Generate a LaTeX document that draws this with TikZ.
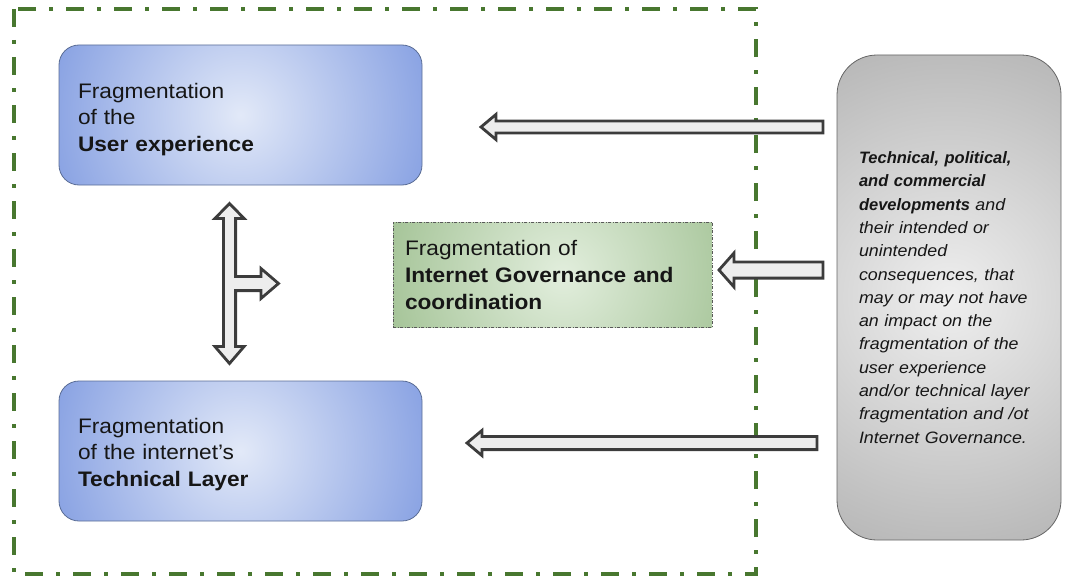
\documentclass[tikz,border=0pt]{standalone}
\usepackage{fontspec}
\setmainfont{Liberation Sans}
\newfontfamily\boxfont{Liberation Sans}[FakeStretch=1.08]
\newfontfamily\devfont{Liberation Sans}[FakeStretch=1.08]
\usetikzlibrary{calc}
\definecolor{framegreen}{HTML}{48772F}
\definecolor{blueout}{HTML}{6888DB}
\definecolor{bluein}{HTML}{E2E9F8}
\definecolor{blueedge}{HTML}{5A6D96}
\definecolor{greenout}{HTML}{7BA768}
\definecolor{greenin}{HTML}{E2EEDD}
\definecolor{grayout}{HTML}{969696}
\definecolor{grayin}{HTML}{EFEFEF}
\definecolor{arrowedge}{HTML}{3C3C3C}
\definecolor{arrowfill}{HTML}{EDEDED}
\definecolor{txt}{HTML}{161616}
\newcommand{\blkarrowL}[5]{%
  \draw[blk] ([yshift=#3]#1) -- ([xshift=#5,yshift=#3]#2) -- ([xshift=#5,yshift=#4]#2) -- (#2)
    -- ([xshift=#5,yshift=-#4]#2) -- ([xshift=#5,yshift=-#3]#2) -- ([yshift=-#3]#1) -- cycle;}
\tikzset{
  frame/.style={draw=framegreen, line width=4pt, dash pattern=on 18pt off 13pt on 4pt off 13pt},
  bluebox/.style={draw=blueedge, line width=0.8pt, rounded corners=20pt,
    path picture={\shade[inner color=bluein, outer color=blueout] (path picture bounding box.center) circle (265pt);},
    text=txt, align=left, text width=325pt, inner xsep=19pt, inner ysep=0pt, minimum height=140pt,
    font=\boxfont\fontsize{21}{26.5}\selectfont},
  greenbox/.style={draw=black!65, line width=0.8pt, dash pattern=on 3pt off 1.5pt on 1pt off 1.5pt,
    path picture={\shade[inner color=greenin, outer color=greenout] ([xshift=10pt]path picture bounding box.center) circle (305pt);},
    text=txt, align=left, text width=295pt, inner xsep=12pt,
    inner ysep=0pt, minimum height=105pt, font=\boxfont\fontsize{21}{27}\selectfont},
  graybox/.style={draw=black!60, line width=0.8pt, rounded corners=40pt,
    path picture={\shade[inner color=grayin, outer color=grayout] (path picture bounding box.center) circle (420pt);},
    text=txt, align=left, text width=180pt, inner xsep=22pt, inner ysep=0pt, minimum height=485pt,
    font=\devfont\fontsize{16.5}{23.3}\selectfont\itshape},
  blk/.style={draw=arrowedge, fill=arrowfill, line width=2.8pt, line join=miter, miter limit=10}
}
\begin{document}
\begin{tikzpicture}[x=1pt,y=-1pt]
\useasboundingbox (0,0) rectangle (1065,578);
% frame
\draw[frame] (14,9) rectangle (756,574);
% boxes
\node[bluebox] (ux) at (240.5,115) {\rule{0pt}{23.5pt}Fragmentation\\of the\\\textbf{User experience}};
\node[bluebox] (tl) at (240.5,451) {\rule{0pt}{21.5pt}Fragmentation\\of the internet’s\\\textbf{Technical Layer}};
\node[greenbox] (ig) at (552.5,274.5) {Fragmentation of\\\textbf{Internet Governance and}\\\textbf{coordination}};
\node[graybox] (dev) at (949,297.5) {{\rmfamily\bfseries Technical, political,}\\{\rmfamily\bfseries and commercial}\\{\rmfamily\bfseries developments} and\\their intended or\\unintended\\consequences, that\\may or may not have\\an impact on the\\fragmentation of the\\user experience\\and/or technical layer\\fragmentation and /ot\\Internet Governance.};
% block arrows
\coordinate (a1t) at (823,127);
\coordinate (a1h) at (481,127);
\coordinate (a2t) at (823,270);
\coordinate (a2h) at (719,270);
\coordinate (a3t) at (817,443);
\coordinate (a3h) at (467,443);
\blkarrowL{a1t}{a1h}{6}{12.6}{15}
\blkarrowL{a2t}{a2h}{8.1}{17}{15}
\blkarrowL{a3t}{a3h}{6.6}{12.6}{15}
% T-shaped arrow
\coordinate (tc) at (229.5,283.5);
\begin{scope}[shift={(tc)}]
\draw[blk] (0,-80) -- (14.6,-65) -- (6.1,-65) -- (6.1,-7.1) -- (31.5,-7.1) -- (31.5,-15) -- (49,0)
  -- (31.5,15) -- (31.5,7.1) -- (6.1,7.1) -- (6.1,63) -- (14.6,63) -- (0,80) -- (-14.6,63)
  -- (-6.1,63) -- (-6.1,-65) -- (-14.6,-65) -- cycle;
\end{scope}
\end{tikzpicture}
\end{document}
